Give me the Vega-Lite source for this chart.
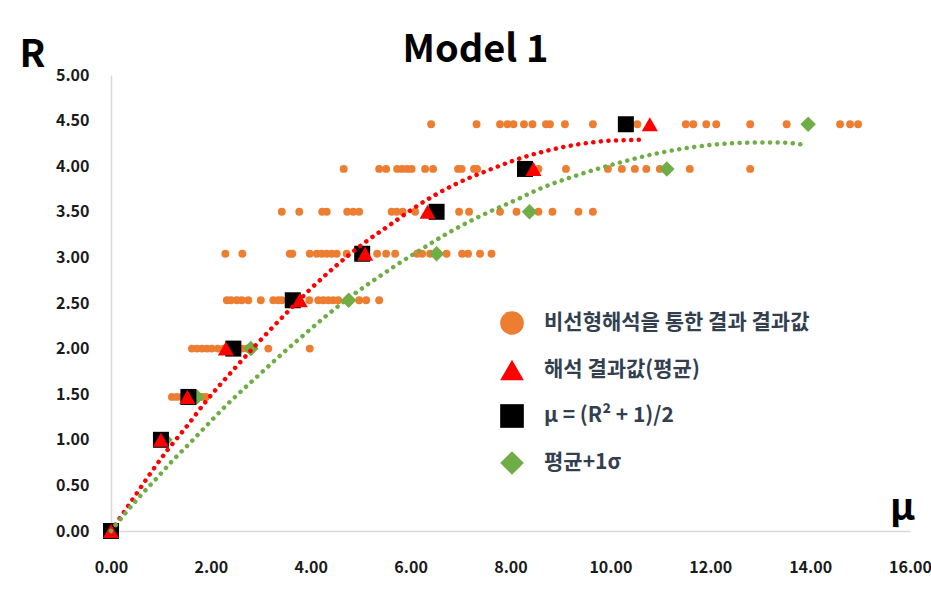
{
  "$schema": "https://vega.github.io/schema/vega-lite/v6.json",
  "width": 799,
  "height": 456,
  "autosize": {"type": "none"},
  "padding": {"left": 111, "top": 75, "right": 21, "bottom": 69},
  "background": "white",
  "title": {"text": "Model 1", "font": "Noto Sans CJK KR", "fontSize": 38, "fontWeight": "bold", "color": "#000000", "anchor": "middle", "dx": -35, "dy": 40, "offset": 6},
  "config": {
    "view": {"stroke": null},
    "axis": {"grid": false, "ticks": false, "tickSize": 0, "labelFlush": false, "domainColor": "#D9D9D9", "domainWidth": 1.5, "labelFont": "Noto Sans CJK KR", "labelFontSize": 16, "labelFontWeight": "bold", "labelColor": "#1A1A1A", "titleFont": "Noto Sans CJK KR", "titleFontWeight": "bold", "titleColor": "#000000", "titleFontSize": 38}
  },
  "datasets": {
    "orange": [
      {"mu": 6.41, "R": 4.46}, {"mu": 7.32, "R": 4.46}, {"mu": 7.79, "R": 4.46}, {"mu": 7.94, "R": 4.46}, {"mu": 8.06, "R": 4.46}, {"mu": 8.27, "R": 4.46}, {"mu": 8.44, "R": 4.46}, {"mu": 8.71, "R": 4.46}, {"mu": 8.79, "R": 4.46}, {"mu": 9.09, "R": 4.46}, {"mu": 9.65, "R": 4.46}, {"mu": 10.54, "R": 4.46}, {"mu": 11.51, "R": 4.46}, {"mu": 11.66, "R": 4.46}, {"mu": 11.92, "R": 4.46}, {"mu": 12.12, "R": 4.46}, {"mu": 12.8, "R": 4.46}, {"mu": 13.53, "R": 4.46}, {"mu": 14.6, "R": 4.46}, {"mu": 14.8, "R": 4.46}, {"mu": 14.96, "R": 4.46},
      {"mu": 4.66, "R": 3.97}, {"mu": 5.37, "R": 3.97}, {"mu": 5.51, "R": 3.97}, {"mu": 5.73, "R": 3.97}, {"mu": 5.83, "R": 3.97}, {"mu": 5.93, "R": 3.97}, {"mu": 6.02, "R": 3.97}, {"mu": 6.29, "R": 3.97}, {"mu": 6.45, "R": 3.97}, {"mu": 6.95, "R": 3.97}, {"mu": 7.02, "R": 3.97}, {"mu": 7.27, "R": 3.97}, {"mu": 7.33, "R": 3.97}, {"mu": 8.56, "R": 3.97}, {"mu": 9.11, "R": 3.97}, {"mu": 9.95, "R": 3.97}, {"mu": 10.23, "R": 3.97}, {"mu": 10.49, "R": 3.97}, {"mu": 10.72, "R": 3.97}, {"mu": 10.99, "R": 3.97}, {"mu": 11.59, "R": 3.97}, {"mu": 12.8, "R": 3.97},
      {"mu": 3.42, "R": 3.5}, {"mu": 3.77, "R": 3.5}, {"mu": 4.23, "R": 3.5}, {"mu": 4.32, "R": 3.5}, {"mu": 4.73, "R": 3.5}, {"mu": 4.85, "R": 3.5}, {"mu": 4.97, "R": 3.5}, {"mu": 5.62, "R": 3.5}, {"mu": 5.72, "R": 3.5}, {"mu": 5.84, "R": 3.5}, {"mu": 6.09, "R": 3.5}, {"mu": 6.97, "R": 3.5}, {"mu": 7.17, "R": 3.5}, {"mu": 7.79, "R": 3.5}, {"mu": 8.12, "R": 3.5}, {"mu": 8.56, "R": 3.5}, {"mu": 8.84, "R": 3.5}, {"mu": 9.36, "R": 3.5}, {"mu": 9.65, "R": 3.5},
      {"mu": 2.29, "R": 3.04}, {"mu": 2.63, "R": 3.04}, {"mu": 3.58, "R": 3.04}, {"mu": 3.63, "R": 3.04}, {"mu": 3.98, "R": 3.04}, {"mu": 4.12, "R": 3.04}, {"mu": 4.22, "R": 3.04}, {"mu": 4.32, "R": 3.04}, {"mu": 4.42, "R": 3.04}, {"mu": 4.52, "R": 3.04}, {"mu": 4.72, "R": 3.04}, {"mu": 5.33, "R": 3.04}, {"mu": 5.51, "R": 3.04}, {"mu": 5.69, "R": 3.04}, {"mu": 6.13, "R": 3.04}, {"mu": 6.23, "R": 3.04}, {"mu": 6.39, "R": 3.04}, {"mu": 6.72, "R": 3.04}, {"mu": 7.03, "R": 3.04}, {"mu": 7.15, "R": 3.04}, {"mu": 7.39, "R": 3.04}, {"mu": 7.62, "R": 3.04},
      {"mu": 2.32, "R": 2.53}, {"mu": 2.4, "R": 2.53}, {"mu": 2.52, "R": 2.53}, {"mu": 2.62, "R": 2.53}, {"mu": 2.75, "R": 2.53}, {"mu": 3.0, "R": 2.53}, {"mu": 3.25, "R": 2.53}, {"mu": 3.35, "R": 2.53}, {"mu": 3.42, "R": 2.53}, {"mu": 3.97, "R": 2.53}, {"mu": 4.15, "R": 2.53}, {"mu": 4.25, "R": 2.53}, {"mu": 4.35, "R": 2.53}, {"mu": 4.45, "R": 2.53}, {"mu": 4.55, "R": 2.53}, {"mu": 4.97, "R": 2.53}, {"mu": 5.11, "R": 2.53}, {"mu": 5.37, "R": 2.53},
      {"mu": 1.62, "R": 2.0}, {"mu": 1.72, "R": 2.0}, {"mu": 1.82, "R": 2.0}, {"mu": 1.92, "R": 2.0}, {"mu": 2.02, "R": 2.0}, {"mu": 2.14, "R": 2.0}, {"mu": 2.26, "R": 2.0}, {"mu": 2.38, "R": 2.0}, {"mu": 2.5, "R": 2.0}, {"mu": 2.62, "R": 2.0}, {"mu": 2.72, "R": 2.0}, {"mu": 3.15, "R": 2.0}, {"mu": 3.98, "R": 2.0},
      {"mu": 1.22, "R": 1.47}, {"mu": 1.32, "R": 1.47}, {"mu": 1.42, "R": 1.47}, {"mu": 1.58, "R": 1.47}, {"mu": 1.7, "R": 1.47}, {"mu": 1.82, "R": 1.47}, {"mu": 1.9, "R": 1.47},
      {"mu": 1.05, "R": 1.0}, {"mu": 0.0, "R": 0.0}
    ],
    "triangles": [
      {"mu": 0.0, "R": 0.0}, {"mu": 1.0, "R": 1.0}, {"mu": 1.53, "R": 1.47}, {"mu": 2.3, "R": 2.0}, {"mu": 3.78, "R": 2.53}, {"mu": 5.09, "R": 3.04}, {"mu": 6.34, "R": 3.5}, {"mu": 8.46, "R": 3.97}, {"mu": 10.79, "R": 4.46}
    ],
    "squares": [
      {"mu": 0.0, "R": 0.0}, {"mu": 1.0, "R": 1.0}, {"mu": 1.55, "R": 1.47}, {"mu": 2.45, "R": 2.0}, {"mu": 3.64, "R": 2.53}, {"mu": 5.03, "R": 3.04}, {"mu": 6.52, "R": 3.5}, {"mu": 8.29, "R": 3.97}, {"mu": 10.31, "R": 4.46}
    ],
    "diamonds": [
      {"mu": 0.0, "R": 0.0}, {"mu": 1.08, "R": 1.0}, {"mu": 1.72, "R": 1.47}, {"mu": 2.8, "R": 2.0}, {"mu": 4.76, "R": 2.53}, {"mu": 6.52, "R": 3.04}, {"mu": 8.38, "R": 3.5}, {"mu": 11.13, "R": 3.97}, {"mu": 13.96, "R": 4.46}
    ],
    "trendRed": [
      {"mu": 0.0, "R": 0.0}, {"mu": 0.45, "R": 0.36}, {"mu": 0.8, "R": 0.64}, {"mu": 1.15, "R": 0.9}, {"mu": 1.52, "R": 1.15}, {"mu": 1.87, "R": 1.4}, {"mu": 2.52, "R": 1.81}, {"mu": 2.92, "R": 2.05}, {"mu": 3.55, "R": 2.41}, {"mu": 3.95, "R": 2.63}, {"mu": 4.49, "R": 2.9}, {"mu": 5.05, "R": 3.15}, {"mu": 5.62, "R": 3.37}, {"mu": 6.09, "R": 3.55}, {"mu": 6.85, "R": 3.79}, {"mu": 7.62, "R": 3.97}, {"mu": 8.27, "R": 4.1}, {"mu": 8.66, "R": 4.16}, {"mu": 9.36, "R": 4.24}, {"mu": 10.0, "R": 4.28}, {"mu": 10.69, "R": 4.29}
    ],
    "trendGreen": [
      {"mu": 0.0, "R": 0.0}, {"mu": 0.25, "R": 0.17}, {"mu": 0.53, "R": 0.35}, {"mu": 0.95, "R": 0.6}, {"mu": 1.23, "R": 0.77}, {"mu": 1.52, "R": 0.93}, {"mu": 1.8, "R": 1.09}, {"mu": 2.08, "R": 1.25}, {"mu": 2.37, "R": 1.41}, {"mu": 2.94, "R": 1.7}, {"mu": 3.4, "R": 1.93}, {"mu": 3.84, "R": 2.14}, {"mu": 4.29, "R": 2.35}, {"mu": 4.75, "R": 2.55}, {"mu": 5.21, "R": 2.73}, {"mu": 5.67, "R": 2.9}, {"mu": 6.13, "R": 3.06}, {"mu": 6.79, "R": 3.28}, {"mu": 7.46, "R": 3.47}, {"mu": 8.11, "R": 3.63}, {"mu": 8.62, "R": 3.76}, {"mu": 9.33, "R": 3.9}, {"mu": 10.19, "R": 4.04}, {"mu": 10.93, "R": 4.14}, {"mu": 11.66, "R": 4.21}, {"mu": 12.39, "R": 4.25}, {"mu": 12.98, "R": 4.26}, {"mu": 13.36, "R": 4.26}, {"mu": 13.95, "R": 4.23}
    ]
  },
  "encoding": {
    "x": {"field": "mu", "type": "quantitative", "scale": {"domain": [0, 16], "nice": false}, "axis": {"values": [0, 2, 4, 6, 8, 10, 12, 14, 16], "format": ".2f", "labelPadding": 28, "title": "μ", "titleX": 791, "titleY": -12, "titleAlign": "center", "titleBaseline": "alphabetic", "titleAnchor": null}},
    "y": {"field": "R", "type": "quantitative", "scale": {"domain": [0, 5], "nice": false}, "axis": {"values": [0, 0.5, 1, 1.5, 2, 2.5, 3, 3.5, 4, 4.5, 5], "format": ".2f", "labelPadding": 22, "title": "R", "titleAngle": 0, "titleX": -79, "titleY": -9, "titleAlign": "center", "titleBaseline": "alphabetic", "titleAnchor": null}}
  },
  "layer": [
    {
      "data": {"name": "orange"},
      "mark": {"type": "point", "filled": true, "opacity": 1, "size": 62},
      "encoding": {
        "color": {"datum": "비선형해석을 통한 결과 결과값", "type": "nominal",
          "scale": {"domain": ["비선형해석을 통한 결과 결과값", "해석 결과값(평균)", "μ = (R² + 1)/2", "평균+1σ"], "range": ["#ED7D31", "#FF0000", "#000000", "#70AD47"]},
          "legend": {"title": null, "orient": "none", "legendX": 389, "legendY": 236, "padding": 0, "symbolSize": 560, "symbolStrokeWidth": 0, "labelFont": "Noto Sans CJK KR", "labelFontSize": 21, "labelFontWeight": "bold", "labelColor": "#333F4F", "labelOffset": 20, "rowPadding": 23, "labelLimit": 400}},
        "shape": {"datum": "비선형해석을 통한 결과 결과값", "type": "nominal",
          "scale": {"domain": ["비선형해석을 통한 결과 결과값", "해석 결과값(평균)", "μ = (R² + 1)/2", "평균+1σ"], "range": ["circle", "triangle-up", "square", "diamond"]},
          "legend": null}
      }
    },
    {
      "data": {"name": "diamonds"},
      "mark": {"type": "point", "filled": true, "opacity": 1, "size": 240},
      "encoding": {
        "color": {"datum": "평균+1σ", "type": "nominal"},
        "shape": {"datum": "평균+1σ", "type": "nominal"}
      }
    },
    {
      "data": {"name": "squares"},
      "mark": {"type": "point", "filled": true, "opacity": 1, "size": 256},
      "encoding": {
        "color": {"datum": "μ = (R² + 1)/2", "type": "nominal"},
        "shape": {"datum": "μ = (R² + 1)/2", "type": "nominal"}
      }
    },
    {
      "data": {"name": "triangles"},
      "mark": {"type": "point", "filled": true, "opacity": 1, "size": 260},
      "encoding": {
        "color": {"datum": "해석 결과값(평균)", "type": "nominal"},
        "shape": {"datum": "해석 결과값(평균)", "type": "nominal"}
      }
    },
    {
      "data": {"name": "trendRed"},
      "mark": {"type": "line", "color": "#FF0000", "strokeWidth": 4.5, "strokeDash": [0.1, 7.5], "strokeCap": "round", "interpolate": "monotone"},
      "encoding": {}
    },
    {
      "data": {"name": "trendGreen"},
      "mark": {"type": "line", "color": "#70AD47", "strokeWidth": 4.5, "strokeDash": [0.1, 7.5], "strokeCap": "round", "interpolate": "monotone"},
      "encoding": {}
    }
  ]
}
